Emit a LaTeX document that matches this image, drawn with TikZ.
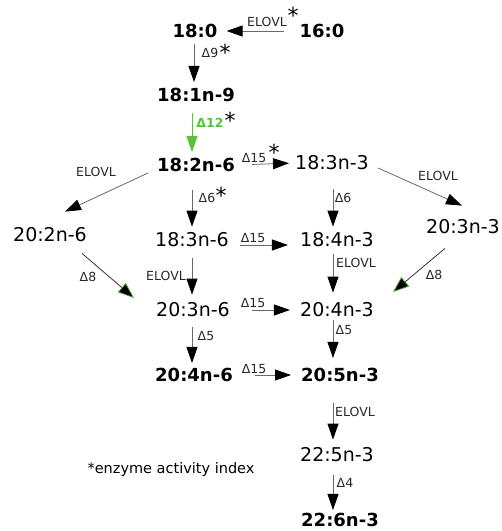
\documentclass[tikz,border=0pt]{standalone}
\usepackage{fontspec}
\setmainfont{DejaVu Sans}
\usetikzlibrary{arrows.meta,calc}
\definecolor{lgreen}{RGB}{85,195,55}
\definecolor{lgray}{RGB}{105,105,105}
\definecolor{labtxt}{RGB}{40,40,40}
\begin{document}
\begin{tikzpicture}[x=1pt,y=-1pt,
  fa/.style={inner sep=0pt, font=\fontsize{19}{20}\selectfont},
  fab/.style={inner sep=0pt, font=\fontsize{18}{20}\selectfont\bfseries},
  lab/.style={inner sep=0pt, font=\fontsize{12.5}{14}\selectfont, text=labtxt},
  ast/.style={inner sep=0pt, font=\fontsize{22}{22}\selectfont},
  arr/.style={draw=lgray, line width=0.8pt, -{Triangle[length=16pt,width=11pt,color=black]}},
  garr/.style={draw=lgreen, line width=0.8pt, -{Triangle[length=16pt,width=11pt,color=lgreen]}},
  darr/.style={draw=black!80, line width=0.8pt, -{Triangle[length=16pt,width=12pt,color=lgreen!80!black,fill=black]}}
]
\useasboundingbox (0,0) rectangle (502,531);

% fatty acid nodes
\node[fab] (A) at (195,31) {18:0};
\node[fab] (B) at (322,31) {16:0};
\node[fab] (C) at (196,95) {18:1n-9};
\node[fab] (D) at (196,165) {18:2n-6};
\node[fa]  (E) at (332,163) {18:3n-3};
\node[fa]  (F) at (50,235) {20:2n-6};
\node[fa]  (G) at (192,240) {18:3n-6};
\node[fa]  (H) at (337,240) {18:4n-3};
\node[fa]  (I) at (463,227) {20:3n-3};
\node[fa]  (J) at (193,310) {20:3n-6};
\node[fa]  (K) at (337,310) {20:4n-3};
\node[fab] (L) at (194,375) {20:4n-6};
\node[fab] (M) at (340,375) {20:5n-3};
\node[fa]  (N) at (337,455) {22:5n-3};
\node[fab] (O) at (340,520) {22:6n-3};

\node[inner sep=0pt, font=\fontsize{14.5}{16}\selectfont] (note) at (171,469) {*enzyme activity index};

% connectors
\draw[arr, shorten <=15pt, shorten >=9pt] (B.west) -- (A.east);
\draw[arr] ($(A.south)+(-1,6)$) -- ($(C.north)+(-2,-6)$);
\draw[garr] ($(C.south)+(-4,11)$) -- ($(D.north)+(-4,-6)$);
\draw[arr, shorten <=17pt, shorten >=6pt] (D.east) -- (E.west);
\draw[arr] ($(D.west)+(-9,8)$) -- ($(F.north)+(15,-16)$);
\draw[arr] ($(D.south)+(-4,18)$) -- ($(G.north)+(0,-6)$);
\draw[arr] ($(E.south)+(1,19)$) -- ($(H.north)+(-4,-6)$);
\draw[arr] ($(E.east)+(9,5)$) -- ($(I.north)+(-1,-14)$);
\draw[arr] ($(G.east)+(11,5)$) -- ($(H.west)+(-12,5)$);
\draw[darr] ($(F.south)+(32,11)$) -- ($(J.west)+(-22,-12)$);
\draw[darr] ($(I.south)+(-18,14)$) -- ($(K.east)+(19,-18)$);
\draw[arr] ($(G.south)+(0,11)$) -- ($(J.north)+(-1,-8)$);
\draw[arr] ($(H.south)+(-4,7)$) -- ($(K.north)+(-4,-10)$);
\draw[arr] ($(J.east)+(22,0)$) -- ($(K.west)+(-10,0)$);
\draw[arr] ($(J.south)+(-1,10)$) -- ($(L.north)+(-2,-5)$);
\draw[arr] ($(K.south)+(-4,3)$) -- ($(M.north)+(-7,-10)$);
\draw[arr] ($(L.east)+(22,0)$) -- ($(M.west)+(-10,0)$);
\draw[arr] ($(M.south)+(-7,21)$) -- ($(N.north)+(-4,-8)$);
\draw[arr] ($(N.south)+(-4,13)$) -- ($(O.north)+(-7,-3)$);

% labels
\node[lab] (lB) at (267,22) {ELOVL};
\node[ast] (sB) at (293,15) {*};
\node[lab] (l9) at (210,53) {Δ9};
\node[ast] (s9) at (225,52) {*};
\node[lab, text=lgreen, font=\fontsize{12.5}{14}\selectfont\bfseries] (l12) at (210,123) {Δ12};
\node[ast] (s12) at (230,120) {*};
\node[lab] (l15a) at (254,158) {Δ15};
\node[ast] (s15a) at (274,152) {*};
\node[lab] (lDF) at (96,172) {ELOVL};
\node[lab] (l6a) at (207,198) {Δ6};
\node[ast] (s6a) at (221,195) {*};
\node[lab] (l6b) at (343,198) {Δ6};
\node[lab] (lEI) at (438,176) {ELOVL};
\node[lab] (l15b) at (253,238) {Δ15};
\node[lab] (l8a) at (88,277) {Δ8};
\node[lab] (l8b) at (434,275) {Δ8};
\node[lab] (lGJ) at (166,276) {ELOVL};
\node[lab] (lHK) at (356,263) {ELOVL};
\node[lab] (l15c) at (253,303) {Δ15};
\node[lab] (l5a) at (206,336) {Δ5};
\node[lab] (l5b) at (344,330) {Δ5};
\node[lab] (l15d) at (254,369) {Δ15};
\node[lab] (lMN) at (355,412) {ELOVL};
\node[lab] (l4) at (345,483) {Δ4};
\end{tikzpicture}
\end{document}
